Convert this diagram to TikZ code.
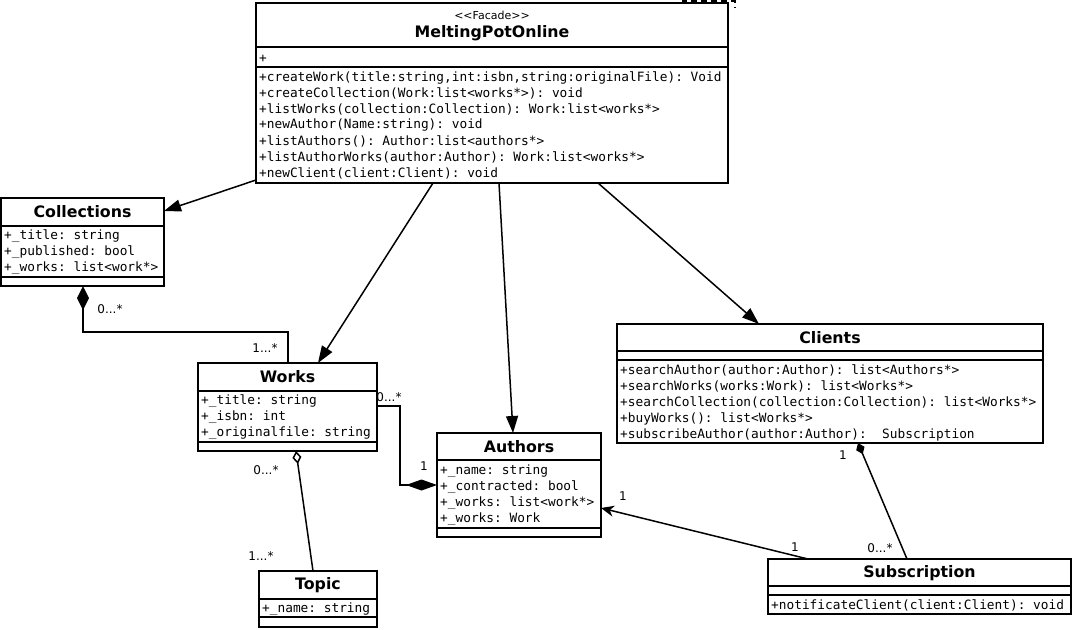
\documentclass[tikz,border=0pt]{standalone}
\usepackage{fontspec}
\setmainfont{DejaVu Sans}
\newfontfamily\umlmono{DejaVu Sans Mono}
\usetikzlibrary{arrows.meta}
\frenchspacing

\tikzset{
  cls/.style={draw, line width=1.6pt, inner sep=0pt, outer sep=0pt, anchor=north west, fill=white},
  sep/.style={line width=1.6pt},
  mem/.style={font=\umlmono\fontsize{12.8}{14}\selectfont, anchor=west, inner sep=0pt, yshift=-1.5pt},
  ttl/.style={font=\bfseries\fontsize{15.8}{17}\selectfont, inner sep=0pt, yshift=-1pt},
  stereo/.style={font=\fontsize{11}{12}\selectfont, inner sep=0pt},
  mult/.style={font=\fontsize{12}{13}\selectfont, inner sep=0pt},
  link/.style={line width=1.5pt},
  nav/.style={link, -{Triangle[length=17pt,width=12pt]}},
  navs/.style={link, -{Stealth[length=13pt,width=11pt,inset=4pt]}},
  comp/.style={link, -{Diamond[length=#1]}},
  comp/.default={24pt,width=12pt},
}

\begin{document}
\begin{tikzpicture}[x=1pt,y=-1pt]
\useasboundingbox (0,0) rectangle (1073,629);

% ---------- MeltingPotOnline (facade) ----------
\draw[line width=1.3pt, dash pattern=on 6pt off 4pt] (683,3) -- (683,1) -- (735,1) -- (735,8);
\node[cls, minimum width=472pt, minimum height=180pt] (mpo) at (256,3) {};
\draw[sep] ([yshift=-44pt]mpo.north west) -- ([yshift=-44pt]mpo.north east);
\draw[sep] ([yshift=-64pt]mpo.north west) -- ([yshift=-64pt]mpo.north east);
\node[stereo] at (492,15) {<{}<Facade>{}>};
\node[ttl] at (492,32) {MeltingPotOnline};
\node[mem] at (259,57) {+};
\node[mem] at (259,76)  {+createWork(title:string,int:isbn,string:originalFile): Void};
\node[mem] at (259,92)  {+createCollection(Work:list<works*>): void};
\node[mem] at (259,108) {+listWorks(collection:Collection): Work:list<works*>};
\node[mem] at (259,124) {+newAuthor(Name:string): void};
\node[mem] at (259,140) {+listAuthors(): Author:list<authors*>};
\node[mem] at (259,156) {+listAuthorWorks(author:Author): Work:list<works*>};
\node[mem] at (259,172) {+newClient(client:Client): void};

% ---------- Collections ----------
\node[cls, minimum width=163pt, minimum height=88pt] (col) at (1,198) {};
\draw[sep] ([yshift=-28pt]col.north west) -- ([yshift=-28pt]col.north east);
\draw[sep] ([yshift=-79pt]col.north west) -- ([yshift=-79pt]col.north east);
\node[ttl] at (82.5,211) {Collections};
\node[mem] at (4,235) {+\_title: string};
\node[mem] at (4,251) {+\_published: bool};
\node[mem] at (4,267) {+\_works: list<work*>};

% ---------- Works ----------
\node[cls, minimum width=179pt, minimum height=88pt] (wk) at (198,363) {};
\draw[sep] ([yshift=-28pt]wk.north west) -- ([yshift=-28pt]wk.north east);
\draw[sep] ([yshift=-79pt]wk.north west) -- ([yshift=-79pt]wk.north east);
\node[ttl] at (287.5,376) {Works};
\node[mem] at (201,400) {+\_title: string};
\node[mem] at (201,416) {+\_isbn: int};
\node[mem] at (201,432) {+\_originalfile: string};

% ---------- Authors ----------
\node[cls, minimum width=164pt, minimum height=104pt] (au) at (437,433) {};
\draw[sep] ([yshift=-27pt]au.north west) -- ([yshift=-27pt]au.north east);
\draw[sep] ([yshift=-95pt]au.north west) -- ([yshift=-95pt]au.north east);
\node[ttl] at (519,446) {Authors};
\node[mem] at (440,470) {+\_name: string};
\node[mem] at (440,486) {+\_contracted: bool};
\node[mem] at (440,502) {+\_works: list<work*>};
\node[mem] at (440,518) {+\_works: Work};

% ---------- Clients ----------
\node[cls, minimum width=426pt, minimum height=119pt] (cl) at (617,324) {};
\draw[sep] ([yshift=-27pt]cl.north west) -- ([yshift=-27pt]cl.north east);
\draw[sep] ([yshift=-36pt]cl.north west) -- ([yshift=-36pt]cl.north east);
\node[ttl] at (830,337) {Clients};
\node[mem] at (620,369) {+searchAuthor(author:Author): list<Authors*>};
\node[mem] at (620,385) {+searchWorks(works:Work): list<Works*>};
\node[mem] at (620,401) {+searchCollection(collection:Collection): list<Works*>};
\node[mem] at (620,417) {+buyWorks(): list<Works*>};
\node[mem] at (620,433) {+subscribeAuthor(author:Author):~ Subscription};

% ---------- Subscription ----------
\node[cls, minimum width=303pt, minimum height=55pt] (sub) at (768,559) {};
\draw[sep] ([yshift=-27pt]sub.north west) -- ([yshift=-27pt]sub.north east);
\draw[sep] ([yshift=-36pt]sub.north west) -- ([yshift=-36pt]sub.north east);
\node[ttl] at (919.5,572) {Subscription};
\node[mem] at (771,604) {+notificateClient(client:Client): void};

% ---------- Topic ----------
\node[cls, minimum width=118pt, minimum height=56pt] (tp) at (259,571) {};
\draw[sep] ([yshift=-28pt]tp.north west) -- ([yshift=-28pt]tp.north east);
\draw[sep] ([yshift=-46pt]tp.north west) -- ([yshift=-46pt]tp.north east);
\node[ttl] at (318,584) {Topic};
\node[mem] at (262,608) {+\_name: string};

% ---------- facade navigations ----------
\draw[nav] ([yshift=3pt]mpo.south west) -- ([yshift=-13pt]col.north east);
\draw[nav] ([xshift=177pt]mpo.south west) -- ([xshift=120pt]wk.north west);
\draw[nav] ([xshift=243pt]mpo.south west) -- ([xshift=76pt]au.north west);
\draw[nav] ([xshift=342pt]mpo.south west) -- ([xshift=142pt]cl.north west);

% ---------- Collections <>- Works ----------
\draw[comp] ([xshift=90pt]wk.north west) -- ++(0,-31) -| ([xshift=82pt]col.south west);
\node[mult] at (110,309) {0...*};
\node[mult] at (265,348) {1...*};

% ---------- Works -<> Authors ----------
\draw[comp={31pt,width=11pt}] ([yshift=-43pt]wk.north east) -- ++(23,0) |- ([yshift=-52pt]au.north west);
\node[mult] at (389,397) {0...*};
\node[mult] at (424,466) {1};

% ---------- Works <>- Topic ----------
\draw[link, {Diamond[open,length=13pt,width=9pt]}-] ([xshift=98pt]wk.south west) -- ([xshift=54pt]tp.north west);
\node[mult] at (266,470) {0...*};
\node[mult] at (261,556) {1...*};

% ---------- Subscription -> Authors ----------
\draw[navs] ([xshift=40pt]sub.north west) -- ([yshift=-75pt]au.north east);
\node[mult] at (623,496) {1};
\node[mult] at (795,547) {1};

% ---------- Clients <>- Subscription ----------
\draw[comp={12pt,width=9pt}] ([xshift=139pt]sub.north west) -- ([xshift=241pt]cl.south west);
\node[mult] at (843,455) {1};
\node[mult] at (880,548) {0...*};

\end{tikzpicture}
\end{document}
